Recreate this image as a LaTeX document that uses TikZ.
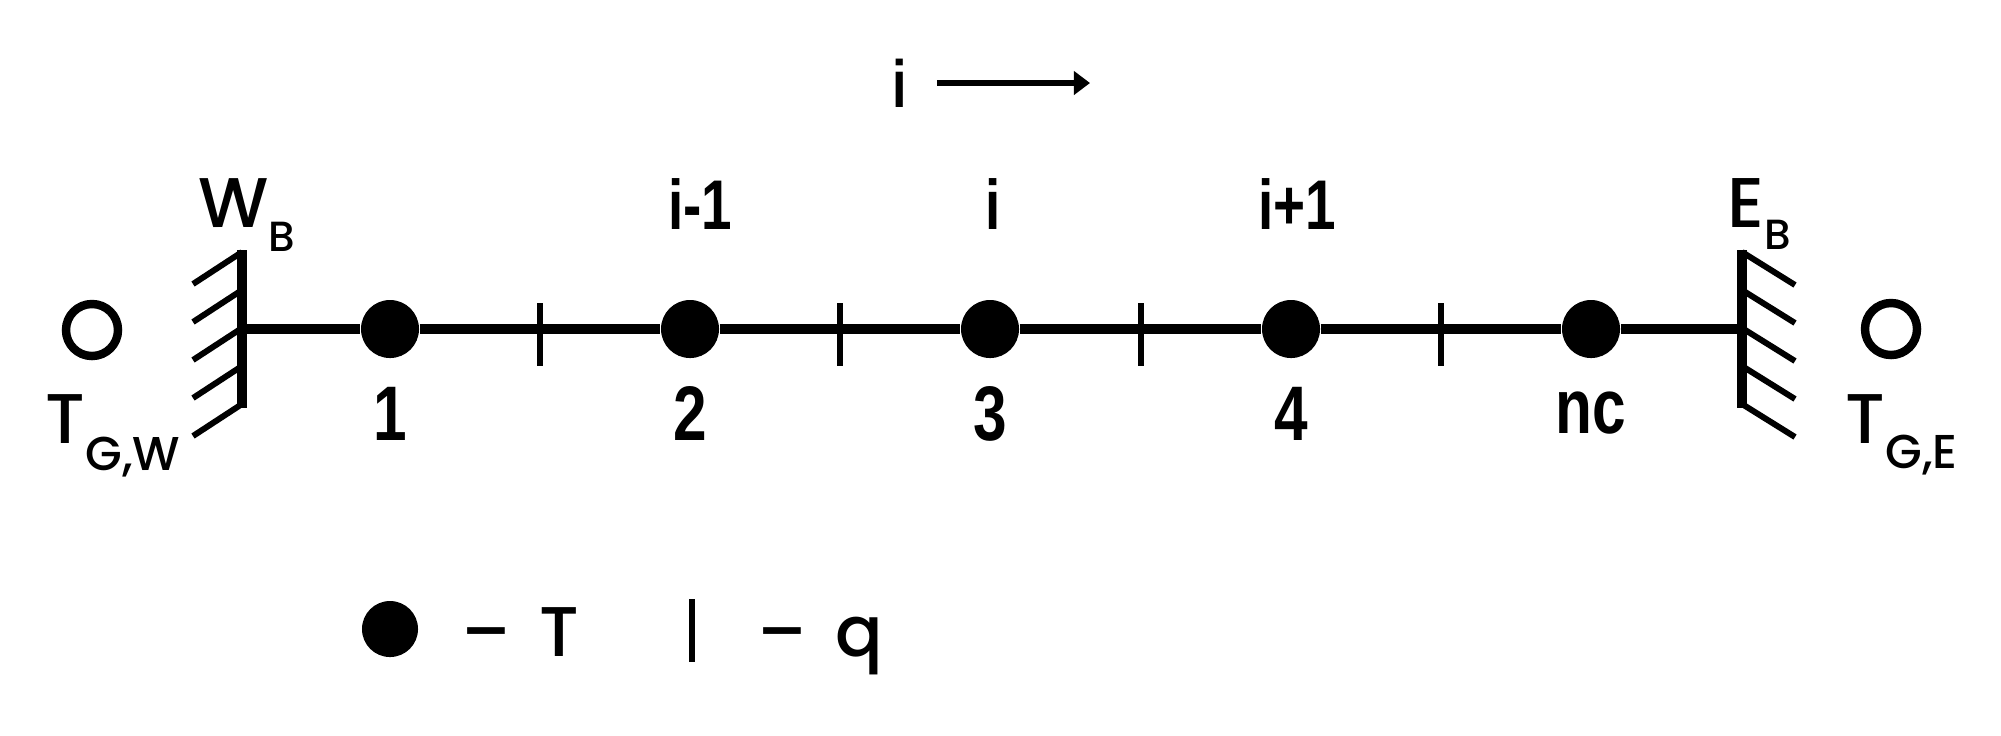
\documentclass[tikz,border=0pt]{standalone}
\usepackage{fontspec}
\setmainfont{Poppins}[BoldFont={Poppins Medium}]
\newfontfamily\narrowfont[FakeStretch=0.78]{Liberation Sans}
\usetikzlibrary{positioning,arrows.meta,calc}

\begin{document}
\begin{tikzpicture}[x=0.01cm, y=-0.01cm,
  rod/.style={line width=2.8pt},
  hatch/.style={line width=1.7pt},
  dirarrow/.style={-{Triangle[length=4.6pt, width=6.6pt]}, line width=1.7pt},
  cell/.style={circle, fill, inner sep=0pt, minimum size=0.58cm},
  gas/.style={circle, draw, line width=2.4pt, inner sep=0pt, minimum size=0.52cm},
  num/.style={font=\narrowfont\bfseries\fontsize{22}{26}\selectfont, anchor=base, inner sep=0pt},
  toplab/.style={font=\narrowfont\bfseries\fontsize{20}{24}\selectfont, anchor=base, inner sep=0pt},
  lab/.style={font=\bfseries\fontsize{20}{24}\selectfont, anchor=base west, inner sep=0pt}]
\useasboundingbox (0,0) rectangle (2001,735);
% boundaries
\coordinate (WB) at (242,329);
\coordinate (EB) at (1742,329);
\draw[rod] ($(WB)+(0,-79)$) -- ($(WB)+(0,79)$);
\draw[rod] ($(EB)+(0,-79)$) -- ($(EB)+(0,79)$);
\foreach \k in {0,...,4} {
  \draw[hatch] ($(WB)+(0,-77+38*\k)$) -- ++(-49,32);
  \draw[hatch] ($(EB)+(0,-77+38*\k)$) -- ++(53,33);
}
\node[lab] (WBl) at (198,227) {W\raisebox{-7pt}{\fontsize{12}{14}\selectfont B}};
\node[lab] (EBl) at (1727,227) {E\raisebox{-6.5pt}{\fontsize{12}{14}\selectfont B}};
% gas temperatures
\node[gas] (gW) at (92,330) {};
\node[gas] (gE) at (1891,329) {};
\node[lab] (TW) at (45,443) {T\raisebox{-7.7pt}{\fontsize{13.5}{15}\selectfont G,W}};
\node[lab] (TE) at (1845,443) {T\raisebox{-7.2pt}{\fontsize{13.5}{15}\selectfont G,E}};
% cells
\foreach \n/\x in {1/390,2/690,3/990,4/1291,nc/1591}
  \node[cell] (c\n) at (\x,329) {};
\draw[rod] (WB) -- (c1) -- (c2) -- (c3) -- (c4) -- (cnc) -- (EB);
% faces between cells
\foreach \a/\b in {1/2,2/3,3/4,4/nc}
  \draw[hatch] ($(c\a)!0.5!(c\b)+(0,-26)$) -- ++(0,63);
% cell numbers
\foreach \n in {1,2,3,4}
  \node[num] (l\n) at ($(c\n)+(0,111)$) {\n};
\node[num] (lnc) at ($(cnc)+(0,104)$) {nc};
\node[toplab] (tim) at ($(c2)+(10,-100)$) {i-1};
\node[toplab] (ti) at ($(c3)+(3,-100)$) {i};
\node[toplab] (tip) at ($(c4)+(6,-100)$) {i+1};
% direction of i
\node[toplab, font=\narrowfont\bfseries\fontsize{19}{22}\selectfont] (dir) at (900,107) {i};
\coordinate (dirtip) at (1090,83);
\draw[dirarrow] (dir.east |- dirtip) ++(29,0) -- (dirtip);
% key
\node[cell, minimum size=0.56cm] (keyT) at (390,629) {};
\node[lab] (keyTlab) at (461,656) {–\hspace{0.4em}T};
\coordinate (keyq) at (692,630);
\draw[hatch] ($(keyq)+(0,-31)$) -- ++(0,63);
\node[lab] (keyqlab) at (757,656) {–\hspace{0.4em}q};
\end{tikzpicture}
\end{document}
